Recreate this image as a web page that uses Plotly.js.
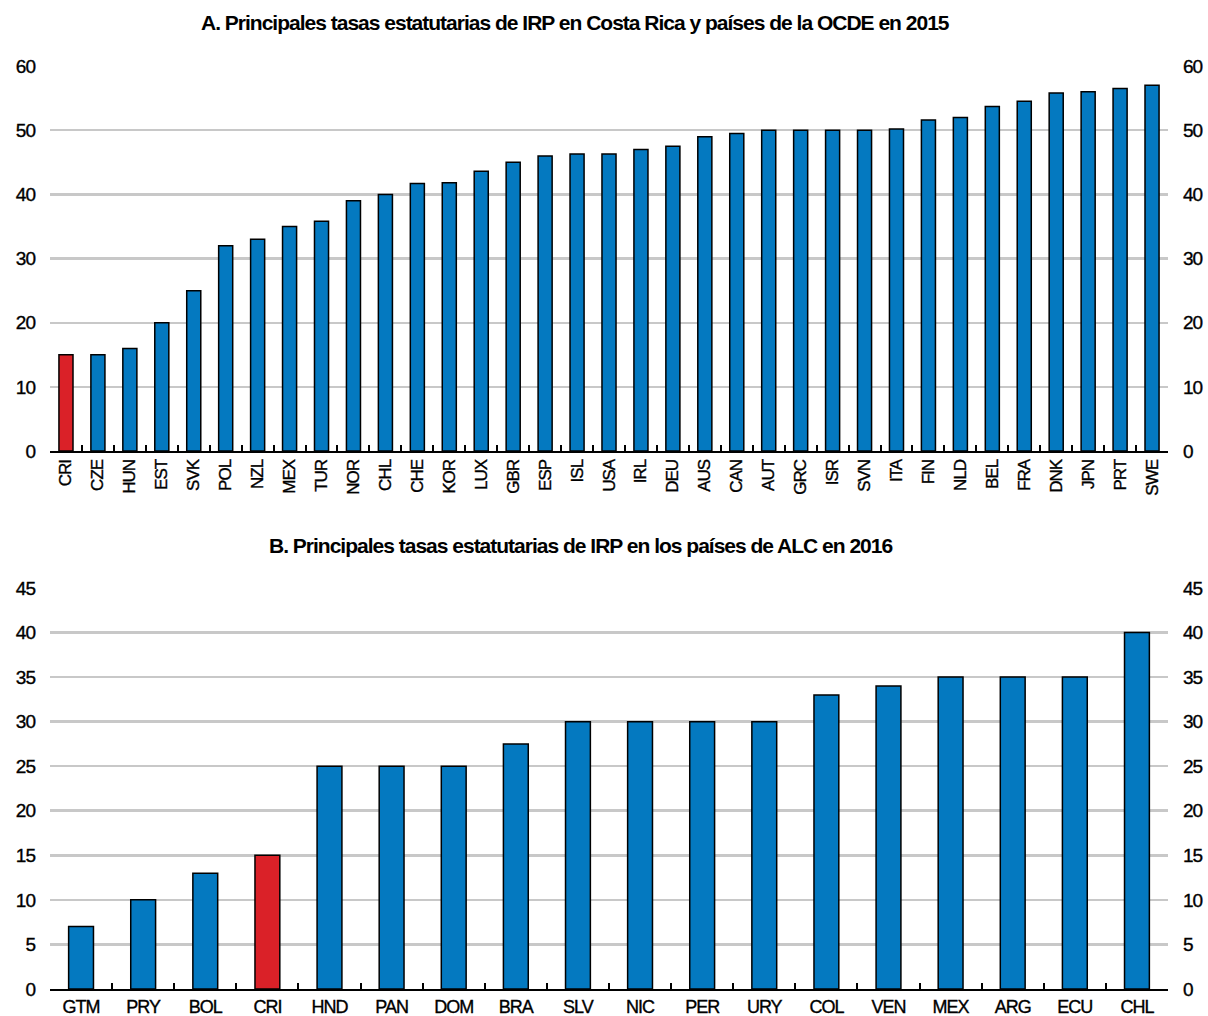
<!DOCTYPE html>
<html><head><meta charset="utf-8">
<script src="https://cdn.plot.ly/plotly-3.0.1.min.js"></script>
<style>
html,body{margin:0;padding:0;background:#fff}
svg text{letter-spacing:-1px}
.xtick text,.ytick text,.y3tick text,.y4tick text,.x2tick text,.y2tick text{stroke:#000;stroke-width:0.35px}
</style>
</head><body><div id="chart" style="width:1208px;height:1016px"></div>
<script>
const oecdCountries = ["CRI","CZE","HUN","EST","SVK","POL","NZL","MEX","TUR","NOR","CHL","CHE","KOR","LUX","GBR","ESP","ISL","USA","IRL","DEU","AUS","CAN","AUT","GRC","ISR","SVN","ITA","FIN","NLD","BEL","FRA","DNK","JPN","PRT","SWE"];
const oecdRates = [15,15,16,20,25,32,33,35,35.8,39,40,41.7,41.8,43.6,45,46,46.3,46.3,47,47.5,49,49.5,50,50,50,50,50.2,51.6,52,53.7,54.5,55.8,56,56.5,57];
const lacCountries = ["GTM","PRY","BOL","CRI","HND","PAN","DOM","BRA","SLV","NIC","PER","URY","COL","VEN","MEX","ARG","ECU","CHL"];
const lacRates = [7,10,13,15,25,25,25,27.5,30,30,30,30,33,34,35,35,35,40];
const highlight = "CRI";
const blue = "#0479c0", red = "#da2128";

const font = "Liberation Sans, Arial, sans-serif";
const colorsFor = arr => arr.map(c => c === highlight ? red : blue);

const traces = [
  {type:"bar", x:oecdCountries, y:oecdRates, xaxis:"x", yaxis:"y", width:0.44,
   marker:{color:colorsFor(oecdCountries), line:{color:"#000", width:1.5}}, hoverinfo:"x+y"},
  {type:"bar", x:lacCountries, y:lacRates, xaxis:"x2", yaxis:"y2", width:0.4,
   marker:{color:colorsFor(lacCountries), line:{color:"#000", width:1.5}}, hoverinfo:"x+y"},
  // invisible companions so the right-hand axes get drawn
  {type:"scatter", mode:"markers", x:oecdCountries, y:oecdRates, xaxis:"x", yaxis:"y3",
   marker:{opacity:0}, hoverinfo:"skip"},
  {type:"scatter", mode:"markers", x:lacCountries, y:lacRates, xaxis:"x2", yaxis:"y4",
   marker:{opacity:0}, hoverinfo:"skip"}
];

const yBase = {showline:false, zeroline:false, gridcolor:"#c8c8c8", gridwidth:2.5, automargin:false,
  ticks:"", tickfont:{family:font, size:19, color:"#000"}, fixedrange:true, ticklabelstandoff:14};
const xBase = {type:"category", showline:true, linecolor:"#000", linewidth:2, ticks:"inside", automargin:false,
  tickson:"boundaries", ticklen:6, tickwidth:2, tickcolor:"#000", showgrid:false, zeroline:false,
  fixedrange:true};

const layout = {
  width:1208, height:1016, paper_bgcolor:"#fff", plot_bgcolor:"#fff",
  margin:{l:50,r:40,t:0,b:0,autoexpand:false}, showlegend:false, bargap:0.5,
  xaxis: Object.assign({}, xBase, {domain:[0,1], anchor:"y", tickangle:-90,
    range:[-0.5, oecdCountries.length-0.5],
    tickfont:{family:font, size:17, color:"#000"}}),
  yaxis: Object.assign({}, yBase, {domain:[0.556,0.935], range:[0,60], dtick:10, anchor:"x"}),
  yaxis3: Object.assign({}, yBase, {domain:[0.556,0.935], range:[0,60], dtick:10, overlaying:"y", side:"right", anchor:"x", showgrid:false}),
  xaxis2: Object.assign({}, xBase, {domain:[0,1], anchor:"y2", tickangle:0,
    range:[-0.5, lacCountries.length-0.5],
    tickfont:{family:font, size:18, color:"#000"}}),
  yaxis2: Object.assign({}, yBase, {domain:[0.0266,0.4213], range:[0,45], dtick:5, anchor:"x2"}),
  yaxis4: Object.assign({}, yBase, {domain:[0.0266,0.4213], range:[0,45], dtick:5, overlaying:"y2", side:"right", anchor:"x2", showgrid:false}),
  annotations:[
    {text:"<b>A. Principales tasas estatutarias de IRP en Costa Rica y países de la OCDE en 2015</b>",
     xref:"paper", yref:"paper", x:(575-50)/1118, y:1-23/1016, xanchor:"center", yanchor:"middle", showarrow:false,
     font:{family:font, size:21, color:"#000"}},
    {text:"<b>B. Principales tasas estatutarias de IRP en los países de ALC en 2016</b>",
     xref:"paper", yref:"paper", x:(580-50)/1118, y:1-545/1016, xanchor:"center", yanchor:"middle", showarrow:false,
     font:{family:font, size:21, color:"#000"}}
  ]
};
Plotly.newPlot("chart", traces, layout, {displayModeBar:false, staticPlot:true});
</script></body></html>
